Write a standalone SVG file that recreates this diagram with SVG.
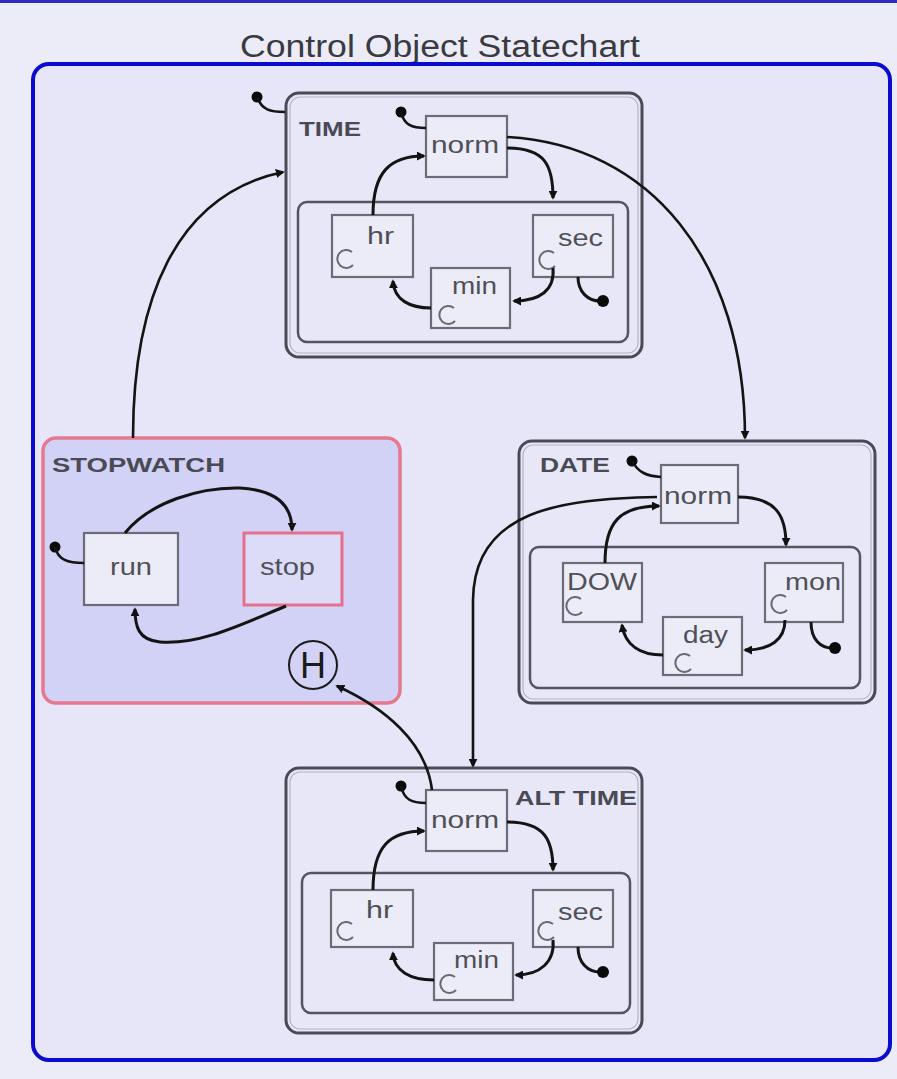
<svg xmlns="http://www.w3.org/2000/svg" width="897" height="1079" viewBox="0 0 897 1079">
  <defs>
    <marker id="arrow" viewBox="0 0 10 10" refX="8" refY="5" markerWidth="9" markerHeight="9" markerUnits="userSpaceOnUse" orient="auto">
      <path d="M0,0 L10,5 L0,10 z" fill="#111"/>
    </marker>
    <style>
      .state { fill: #e7e7f8; stroke: #4a4a56; stroke-width: 3; }
      .state-in { fill: none; stroke: #b4b4c4; stroke-width: 1.2; }
      .region { fill: #e7e7f8; stroke: #55555f; stroke-width: 2.5; }
      .box { fill: #ececf8; stroke: #6c6c78; stroke-width: 2.2; }
      .pinkbox { fill: #dcdcf8; stroke: #e6708c; stroke-width: 3; }
      .label { font-family: "Liberation Sans", Arial, sans-serif; font-size: 20px; font-weight: bold; fill: #4a4a55; }
      .name { font-family: "Liberation Sans", Arial, sans-serif; font-size: 23px; fill: #505058; }
      .wire { fill: none; stroke: #141414; stroke-width: 2.6; }
      .inner { stroke-width: 3; }
      .dot { fill: #0a0a0a; }
      .cicon { fill: none; stroke: #6a6a74; stroke-width: 2; }
    </style>
  </defs>

  <!-- page background -->
  <rect x="0" y="0" width="897" height="1079" fill="#ececf9"/>
  <rect x="0" y="0" width="897" height="3" fill="#2b2bc0"/>

  <text x="440" y="57" text-anchor="middle" textLength="400" lengthAdjust="spacingAndGlyphs" font-family="Liberation Sans, Arial, sans-serif" font-size="31" fill="#3a3a42">Control Object Statechart</text>

  <!-- enclosing chart frame -->
  <rect id="chart" x="33" y="64" width="857" height="996" rx="16" fill="#e6e6f8" stroke="#0a0ad0" stroke-width="4"/>

  <!-- TIME superstate -->
  <g id="time">
    <rect class="state" x="286" y="93" width="356" height="264" rx="13"/>
    <rect class="state-in" x="290" y="97" width="348" height="256" rx="10"/>
    <text class="label" x="299" y="136" textLength="62" lengthAdjust="spacingAndGlyphs">TIME</text>
    <rect class="region" x="298" y="202" width="330" height="140" rx="9"/>
    <g id="time-norm">
      <rect class="box" x="426" y="116" width="81" height="61"/>
      <text class="name" x="431" y="153" textLength="68" lengthAdjust="spacingAndGlyphs">norm</text>
    </g>
    <g id="time-hr">
      <rect class="box" x="332" y="215" width="81" height="62"/>
      <text class="name" x="367" y="244" textLength="27" lengthAdjust="spacingAndGlyphs">hr</text>
      <path class="cicon" d="M352,252 A9,9 0 1 0 353,265"/>
    </g>
    <g id="time-sec">
      <rect class="box" x="533" y="215" width="80" height="62"/>
      <text class="name" x="558" y="246" textLength="45" lengthAdjust="spacingAndGlyphs">sec</text>
      <path class="cicon" d="M554,253 A9,9 0 1 0 555,266"/>
    </g>
    <g id="time-min">
      <rect class="box" x="431" y="268" width="79" height="60"/>
      <text class="name" x="452" y="294" textLength="45" lengthAdjust="spacingAndGlyphs">min</text>
      <path class="cicon" d="M454,308 A9,9 0 1 0 455,321"/>
    </g>
  </g>

  <!-- STOPWATCH superstate -->
  <g id="stopwatch">
    <rect x="43" y="438" width="357" height="265" rx="13" fill="#d2d2f6" stroke="#e8788f" stroke-width="3.5"/>
    <text class="label" x="52" y="472" textLength="173" lengthAdjust="spacingAndGlyphs">STOPWATCH</text>
    <g id="sw-run">
      <rect class="box" x="84" y="533" width="94" height="72" fill="#dadaf6"/>
      <text class="name" x="110" y="575" textLength="42" lengthAdjust="spacingAndGlyphs">run</text>
    </g>
    <g id="sw-stop">
      <rect class="pinkbox" x="244" y="533" width="98" height="72"/>
      <text class="name" x="260" y="575" textLength="55" lengthAdjust="spacingAndGlyphs">stop</text>
    </g>
    <g id="sw-history">
      <circle cx="313" cy="665" r="24" fill="none" stroke="#1a1a1a" stroke-width="2"/>
      <text x="313" y="678" text-anchor="middle" font-family="Liberation Sans, Arial, sans-serif" font-size="36" fill="#1a1a1a">H</text>
    </g>
  </g>

  <!-- DATE superstate -->
  <g id="date">
    <rect class="state" x="519" y="441" width="356" height="262" rx="13"/>
    <rect class="state-in" x="523" y="445" width="348" height="254" rx="10"/>
    <text class="label" x="540" y="472" textLength="70" lengthAdjust="spacingAndGlyphs">DATE</text>
    <rect class="region" x="530" y="547" width="330" height="141" rx="9"/>
    <g id="date-norm">
      <rect class="box" x="661" y="465" width="77" height="58"/>
      <text class="name" x="664" y="504" textLength="68" lengthAdjust="spacingAndGlyphs">norm</text>
    </g>
    <g id="date-dow">
      <rect class="box" x="563" y="563" width="79" height="59"/>
      <text class="name" x="567" y="590" textLength="70" lengthAdjust="spacingAndGlyphs">DOW</text>
      <path class="cicon" d="M581,599 A9,9 0 1 0 582,612"/>
    </g>
    <g id="date-mon">
      <rect class="box" x="765" y="563" width="78" height="59"/>
      <text class="name" x="785" y="590" textLength="56" lengthAdjust="spacingAndGlyphs">mon</text>
      <path class="cicon" d="M786,597 A9,9 0 1 0 787,610"/>
    </g>
    <g id="date-day">
      <rect class="box" x="663" y="617" width="79" height="58"/>
      <text class="name" x="683" y="643" textLength="45" lengthAdjust="spacingAndGlyphs">day</text>
      <path class="cicon" d="M690,656 A9,9 0 1 0 691,669"/>
    </g>
  </g>

  <!-- ALT TIME superstate -->
  <g id="alt-time">
    <rect class="state" x="286" y="768" width="356" height="265" rx="13"/>
    <rect class="state-in" x="290" y="772" width="348" height="257" rx="10"/>
    <text class="label" x="515" y="805" textLength="122" lengthAdjust="spacingAndGlyphs">ALT TIME</text>
    <rect class="region" x="302" y="873" width="328" height="140" rx="9"/>
    <g id="alt-norm">
      <rect class="box" x="426" y="790" width="81" height="61"/>
      <text class="name" x="431" y="828" textLength="68" lengthAdjust="spacingAndGlyphs">norm</text>
    </g>
    <g id="alt-hr">
      <rect class="box" x="331" y="890" width="82" height="57"/>
      <text class="name" x="366" y="918" textLength="27" lengthAdjust="spacingAndGlyphs">hr</text>
      <path class="cicon" d="M352,924 A9,9 0 1 0 353,937"/>
    </g>
    <g id="alt-sec">
      <rect class="box" x="533" y="890" width="80" height="57"/>
      <text class="name" x="558" y="920" textLength="45" lengthAdjust="spacingAndGlyphs">sec</text>
      <path class="cicon" d="M553,924 A9,9 0 1 0 554,937"/>
    </g>
    <g id="alt-min">
      <rect class="box" x="434" y="943" width="79" height="57"/>
      <text class="name" x="454" y="968" textLength="45" lengthAdjust="spacingAndGlyphs">min</text>
      <path class="cicon" d="M455,977 A9,9 0 1 0 456,990"/>
    </g>
  </g>

  <!-- transitions -->
  <g id="connectors">
    <!-- between superstates -->
    <path class="wire" d="M133,438 C133,300 175,195 283,172" marker-end="url(#arrow)"/>
    <path class="wire" d="M507,137 C650,145 745,260 745,438" marker-end="url(#arrow)"/>
    <path class="wire" d="M657,497 C560,499 474,510 473,600 L473,766" marker-end="url(#arrow)"/>
    <path class="wire" d="M432,790 C426,742 385,708 337,686" marker-end="url(#arrow)"/>

    <!-- TIME -->
    <circle class="dot" cx="257" cy="97" r="5.5"/>
    <path class="wire" d="M257,97 C262,110 270,112 285,112"/>
    <circle class="dot" cx="401" cy="112" r="5.5"/>
    <path class="wire" d="M401,112 C404,125 412,128 426,128"/>
    <path class="wire inner" d="M507,148 C545,148 553,165 553,198" marker-end="url(#arrow)"/>
    <path class="wire inner" d="M373,215 C373,172 390,156 424,156" marker-end="url(#arrow)"/>
    <path class="wire inner" d="M553,268 C555,290 540,301 514,301" marker-end="url(#arrow)"/>
    <path class="wire inner" d="M431,308 C410,308 394,300 393,281" marker-end="url(#arrow)"/>
    <path class="wire inner" d="M578,277 C578,292 588,301 600,301"/>
    <circle class="dot" cx="603" cy="301" r="6"/>

    <!-- STOPWATCH -->
    <circle class="dot" cx="55" cy="547" r="5.5"/>
    <path class="wire" d="M55,547 C58,560 68,563 84,563"/>
    <path class="wire inner" d="M125,533 C150,502 200,487 240,488 C276,490 292,505 292,530" marker-end="url(#arrow)"/>
    <path class="wire inner" d="M286,606 C240,625 200,645 160,642 C138,640 135,626 135,609" marker-end="url(#arrow)"/>

    <!-- DATE -->
    <circle class="dot" cx="632" cy="461" r="5.5"/>
    <path class="wire" d="M632,461 C638,472 646,476 661,477"/>
    <path class="wire inner" d="M738,497 C778,497 786,518 786,545" marker-end="url(#arrow)"/>
    <path class="wire inner" d="M605,563 C605,522 620,506 659,506" marker-end="url(#arrow)"/>
    <path class="wire inner" d="M785,620 C785,640 770,650 745,650" marker-end="url(#arrow)"/>
    <path class="wire inner" d="M663,655 C640,655 625,645 622,625" marker-end="url(#arrow)"/>
    <path class="wire inner" d="M811,622 C811,640 821,648 832,648"/>
    <circle class="dot" cx="835" cy="648" r="6"/>

    <!-- ALT TIME -->
    <circle class="dot" cx="401" cy="786" r="5.5"/>
    <path class="wire" d="M401,786 C404,800 412,803 426,803"/>
    <path class="wire inner" d="M507,822 C545,822 553,840 553,870" marker-end="url(#arrow)"/>
    <path class="wire inner" d="M373,890 C373,846 390,831 424,831" marker-end="url(#arrow)"/>
    <path class="wire inner" d="M553,940 C555,962 540,975 516,975" marker-end="url(#arrow)"/>
    <path class="wire inner" d="M434,980 C410,980 394,971 393,953" marker-end="url(#arrow)"/>
    <path class="wire inner" d="M578,947 C578,963 588,972 600,972"/>
    <circle class="dot" cx="603" cy="972" r="6"/>
  </g>
</svg>
